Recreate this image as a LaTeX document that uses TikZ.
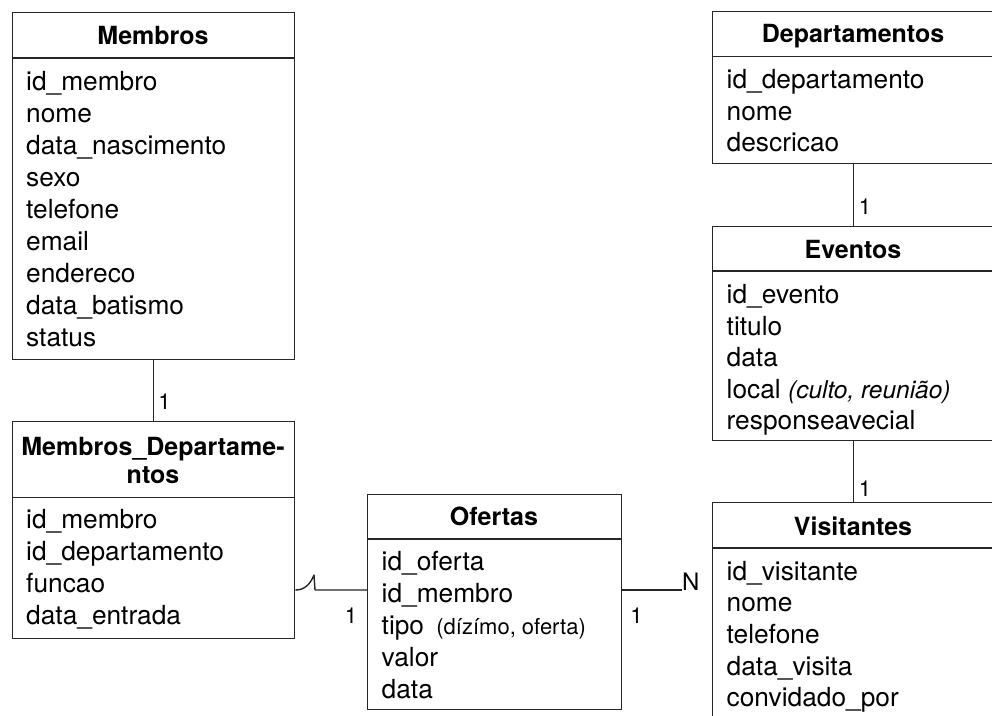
\documentclass[tikz,border=0pt]{standalone}
\usepackage{fontspec}
\setmainfont{TeX Gyre Heros}
\begin{document}
\begin{tikzpicture}[x=1pt,y=-1pt,
  entity/.style={draw=black!85, line width=1.4pt, rectangle, inner sep=0pt, anchor=north west},
  ttl/.style={font=\fontsize{25}{28}\selectfont\bfseries, anchor=base, inner sep=0pt},
  fld/.style={font=\fontsize{26.3}{30}\selectfont, anchor=base west, inner sep=0pt},
  card/.style={font=\fontsize{22}{26}\selectfont, inner sep=0pt},
  link/.style={draw=black!85, line width=1.4pt},
  divider/.style={draw=black!85, line width=1.4pt}]
\useasboundingbox (0,0) rectangle (992,715);
\clip (0,0) rectangle (992,715);
\fill[white] (0,0) rectangle (992,715);

% ---------- boxes ----------
\node[entity, minimum width=282pt, minimum height=347pt] (membros) at (12,12) {};
\node[entity, minimum width=282pt, minimum height=217pt] (md) at (12,421) {};
\node[entity, minimum width=254pt, minimum height=215pt] (ofertas) at (367,494) {};
\node[entity, minimum width=282pt, minimum height=152pt] (dep) at (712,11) {};
\node[entity, minimum width=282pt, minimum height=214pt] (ev) at (712,226) {};
\node[entity, minimum width=282pt, minimum height=230pt] (vis) at (712,502) {};

% dividers
\draw[divider] (membros.west |- 0,58) -- (membros.east |- 0,58);
\draw[divider] (md.west |- 0,497.5) -- (md.east |- 0,497.5);
\draw[divider] (ofertas.west |- 0,539) -- (ofertas.east |- 0,539);
\draw[divider] (dep.west |- 0,56.5) -- (dep.east |- 0,56.5);
\draw[divider] (ev.west |- 0,271) -- (ev.east |- 0,271);
\draw[divider] (vis.west |- 0,548) -- (vis.east |- 0,548);

% ---------- titles ----------
\node[ttl] (tmembros) at (153,44.5) {Membros};
\node[ttl, align=center] (tmd) at (153,483) {Membros\_Departame-\\ntos};
\node[ttl] (tofertas) at (494,525.7) {Ofertas};
\node[ttl] (tdep) at (853,42.7) {Departamentos};
\node[ttl] (tev) at (853,258.3) {Eventos};
\node[ttl] (tvis) at (853,535) {Visitantes};

% ---------- fields ----------
\node[fld] (m1) at (26,90.5) {id\_membro};
\node[fld] (m2) at (26,122.5) {nome};
\node[fld] (m3) at (26,154.5) {data\_nascimento};
\node[fld] (m4) at (26,186.5) {sexo};
\node[fld] (m5) at (26,218.5) {telefone};
\node[fld] (m6) at (26,250.5) {email};
\node[fld] (m7) at (26,282.5) {endereco};
\node[fld] (m8) at (26,314.5) {data\_batismo};
\node[fld] (m9) at (26,346.5) {status};

\node[fld] (md1) at (26,528) {id\_membro};
\node[fld] (md2) at (26,560.5) {id\_departamento};
\node[fld] (md3) at (26,592.5) {funcao};
\node[fld] (md4) at (26,624.5) {data\_entrada};

\node[fld] (o1) at (381.5,570.5) {id\_oferta};
\node[fld] (o2) at (381.5,602.5) {id\_membro};
\node[fld] (o3) at (381.5,634.5) {tipo\hspace{5pt} {\fontsize{22}{26}\selectfont(dízímo, oferta)}};
\node[fld] (o4) at (381.5,666.5) {valor};
\node[fld] (o5) at (381.5,698.5) {data};

\node[fld] (d1) at (726.5,88.3) {id\_departamento};
\node[fld] (d2) at (726.5,120) {nome};
\node[fld] (d3) at (726.5,151.7) {descricao};

\node[fld] (e1) at (726.5,303.3) {id\_evento};
\node[fld] (e2) at (726.5,335) {titulo};
\node[fld] (e3) at (726.5,366.7) {data};
\node[fld] (e4) at (726.5,398.3) {local {\fontsize{24.5}{28}\selectfont\itshape (culto, reunião)}};
\node[fld] (e5) at (726.5,429) {responseavecial};

\node[fld] (v1) at (726.5,580) {id\_visitante};
\node[fld] (v2) at (726.5,611.7) {nome};
\node[fld] (v3) at (726.5,643.3) {telefone};
\node[fld] (v4) at (726.5,675) {data\_visita};
\node[fld] (v5) at (726.5,706.7) {convidado\_por};

% ---------- connectors ----------
\draw[link] (membros.south) -- (md.north);
\node[card] (c1) at (164.5,402) {1};

\draw[link] (dep.south) -- (ev.north);
\node[card] (c2) at (865,207) {1};

\draw[link] (ev.south) -- (vis.north);
\node[card] (c3) at (865,489) {1};

\coordinate (hk) at (314,575);
\coordinate (hkb) at (315,590);
\draw[link, line join=round] (md.east |- 0,590) .. controls (304,590) and (310,585) .. (hk) -- (hkb) -- (ofertas.west |- hkb);
\node[card] (c4) at (351,616) {1};

\coordinate (nend) at (682,590);
\draw[link] (ofertas.east |- nend) -- (nend);
\node[card, anchor=base west, font=\fontsize{24}{28}\selectfont] (nlab) at (682,590.7) {N};
\node[card] (c5) at (636.5,615.5) {1};
\end{tikzpicture}
\end{document}
